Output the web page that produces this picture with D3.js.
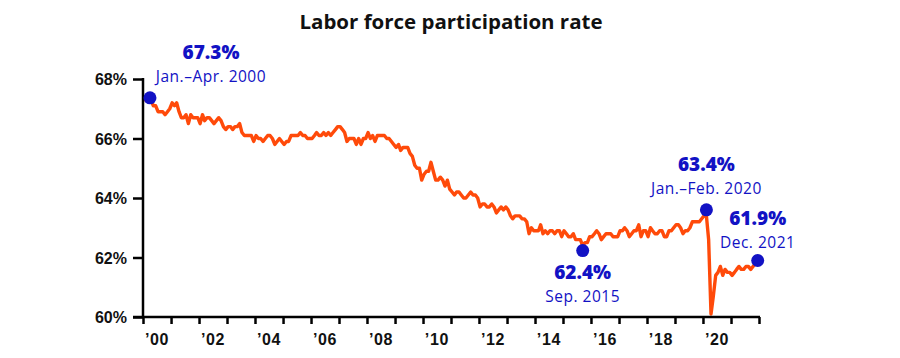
<!DOCTYPE html>
<html>
<head>
<meta charset="utf-8">
<script src="https://cdn.jsdelivr.net/npm/d3@7"></script>
<style>
  html, body { margin: 0; padding: 0; background: #fff; }
  svg { display: block; font-family: "Open Sans", Lato, sans-serif; }
</style>
</head>
<body>
<svg id="chart" width="900" height="358"></svg>
<script>
// ---- Data (monthly labor force participation rate, %) ----
const years = d3.range(2000, 2022);
const rate2000 = [67.3,67.3,67.3,67.3,67.1,67.1,66.9,66.9,66.9,66.8,66.9,67.0];
const rate2001 = [67.2,67.1,67.2,66.9,66.7,66.7,66.8,66.5,66.8,66.7,66.7,66.7];
const rate2002 = [66.5,66.8,66.6,66.7,66.7,66.6,66.5,66.6,66.7,66.6,66.4,66.3];
const rate2003 = [66.4,66.4,66.3,66.4,66.4,66.5,66.2,66.1,66.1,66.1,66.1,65.9];
const rate2004 = [66.1,66.0,66.0,65.9,66.0,66.1,66.1,66.0,65.8,65.9,66.0,65.9];
const rate2005 = [65.8,65.9,65.9,66.1,66.1,66.1,66.1,66.2,66.1,66.1,66.0,66.0];
const rate2006 = [66.0,66.1,66.2,66.1,66.1,66.2,66.1,66.2,66.1,66.2,66.3,66.4];
const rate2007 = [66.4,66.3,66.2,65.9,66.0,66.0,66.0,65.8,66.0,65.8,66.0,66.0];
const rate2008 = [66.2,66.0,66.1,65.9,66.1,66.1,66.1,66.1,66.0,66.0,65.9,65.8];
const rate2009 = [65.7,65.8,65.6,65.7,65.7,65.7,65.5,65.4,65.1,65.0,65.0,64.6];
const rate2010 = [64.8,64.9,64.9,65.2,64.9,64.6,64.6,64.7,64.6,64.4,64.6,64.3];
const rate2011 = [64.2,64.1,64.2,64.2,64.1,64.0,64.0,64.1,64.2,64.1,64.1,64.0];
const rate2012 = [63.7,63.8,63.8,63.7,63.7,63.8,63.7,63.5,63.6,63.7,63.6,63.7];
const rate2013 = [63.6,63.4,63.3,63.4,63.4,63.4,63.3,63.3,63.2,62.8,63.0,62.9];
const rate2014 = [62.9,62.9,63.1,62.8,62.9,62.8,62.9,62.9,62.8,62.9,62.9,62.7];
const rate2015 = [62.9,62.8,62.7,62.7,62.8,62.6,62.6,62.6,62.4,62.5,62.5,62.7];
const rate2016 = [62.7,62.8,62.9,62.8,62.6,62.7,62.8,62.8,62.8,62.7,62.7,62.7];
const rate2017 = [62.9,62.9,63.0,62.9,62.7,62.8,62.9,62.9,63.1,62.7,62.9,62.9];
const rate2018 = [62.7,63.0,62.9,62.8,62.8,62.9,62.9,62.7,62.7,62.9,62.9,63.0];
const rate2019 = [63.1,63.1,63.0,62.8,62.9,62.9,63.0,63.2,63.2,63.2,63.2,63.3];
const rate2020 = [63.4,63.4,62.6,60.1,60.7,61.4,61.5,61.7,61.4,61.6,61.5,61.5];
const rate2021 = [61.4,61.5,61.6,61.7,61.6,61.6,61.7,61.7,61.6,61.7,61.8,61.9];
const ratesByYear = [rate2000,rate2001,rate2002,rate2003,rate2004,rate2005,rate2006,
  rate2007,rate2008,rate2009,rate2010,rate2011,rate2012,rate2013,rate2014,rate2015,
  rate2016,rate2017,rate2018,rate2019,rate2020,rate2021];

const yTickValues = [60, 62, 64, 66, 68];
const xLabelYears = [2000, 2002, 2004, 2006, 2008, 2010, 2012, 2014, 2016, 2018, 2020];

// Highlighted points
const calloutDates  = ["2000-04-01", "2015-09-15", "2020-02-15", "2021-12-15"];
const calloutValues = [67.3, 62.4, 63.4, 61.9];
const calloutTitles = ["67.3%", "62.4%", "63.4%", "61.9%"];
const calloutSubs   = ["Jan.–Apr. 2000", "Sep. 2015", "Jan.–Feb. 2020", "Dec. 2021"];

// ---- Layout / style (not data) ----
const calloutLayout = [
  { dx: 61,  dyTitle: -41,   dySub: -18,   dotDy: -2 },
  { dx: 0,   dyTitle: 33,    dySub: 56,    dotDy: 5 },
  { dx: 0,   dyTitle: -44.4, dySub: -21.4, dotDy: -6 },
  { dx: 0,   dyTitle: -35,   dySub: -12,   dotDy: 0 }
];
const lineColor = "#FF4A0A";
const dotColor = "#1212C4";

const svg = d3.select("#chart");
const x = d3.scaleTime()
  .domain([new Date(2000, 0, 1), new Date(2022, 0, 1)])
  .range([143, 759]);
const y = d3.scaleLinear().domain([60, 68]).range([317, 79]);

const series = [];
years.forEach((yr, i) => {
  ratesByYear[i].forEach((v, m) => series.push({ date: new Date(yr, m, 15), value: v }));
});

// Title
svg.append("text")
  .attr("x", 451).attr("y", 29)
  .attr("text-anchor", "middle")
  .attr("font-size", 19.5).attr("font-weight", 700)
  .attr("fill", "#111")
  .attr("textLength", 303).attr("lengthAdjust", "spacingAndGlyphs")
  .text("Labor force participation rate");

// Line
svg.append("path")
  .datum(series)
  .attr("fill", "none")
  .attr("stroke", lineColor)
  .attr("stroke-width", 3.4)
  .attr("stroke-linejoin", "round")
  .attr("d", d3.line().x(d => x(d.date)).y(d => y(d.value)));

// Y axis
const yAxis = d3.axisLeft(y).tickValues(yTickValues).tickSize(10).tickPadding(6)
  .tickFormat(d => d + "%");
const gy = svg.append("g").attr("transform", "translate(143,0)").call(yAxis);
gy.select(".domain").remove();
gy.append("line").attr("x1", 0).attr("x2", 0).attr("y1", 78).attr("y2", 318)
  .attr("stroke", "#000").attr("stroke-width", 2.5);
gy.selectAll(".tick line").attr("stroke", "#000").attr("stroke-width", 2.5);
gy.selectAll(".tick text").attr("fill", "#111").attr("font-size", 16)
  .attr("font-weight", 700).attr("dy", "0.36em");

// X axis (year ticks)
const xTicks = d3.range(2000, 2023).map(yr => new Date(yr, 0, 1));
const xAxis = d3.axisBottom(x).tickValues(xTicks).tickSize(7).tickFormat("");
const gx = svg.append("g").attr("transform", "translate(0,317)").call(xAxis);
gx.select(".domain").remove();
gx.append("line").attr("x1", 133).attr("x2", 760).attr("y1", 0).attr("y2", 0)
  .attr("stroke", "#000").attr("stroke-width", 2.5);
gx.selectAll(".tick line").attr("stroke", "#000").attr("stroke-width", 2.5);
gx.selectAll(".xlab")
  .data(xLabelYears)
  .enter().append("text")
  .attr("class", "xlab")
  .attr("x", d => x(new Date(d, 6, 1)))
  .attr("y", 27.5)
  .attr("text-anchor", "middle")
  .attr("font-size", 16).attr("font-weight", 700).attr("fill", "#111")
  .attr("letter-spacing", 0.6)
  .text(d => "’" + String(d).slice(2));

// Callouts
calloutDates.forEach((ds, i) => {
  const dt = new Date(ds + "T00:00:00");
  const cx = x(dt), cy = y(calloutValues[i]);
  const L = calloutLayout[i];
  svg.append("circle")
    .attr("cx", cx).attr("cy", cy + L.dotDy).attr("r", 6.5)
    .attr("fill", dotColor);
  svg.append("text")
    .attr("x", cx + L.dx).attr("y", cy + L.dyTitle)
    .attr("text-anchor", "middle")
    .attr("font-size", 19).attr("font-weight", 800).attr("fill", dotColor)
    .text(calloutTitles[i]);
  svg.append("text")
    .attr("x", cx + L.dx).attr("y", cy + L.dySub)
    .attr("text-anchor", "middle")
    .attr("font-size", 15.5).attr("font-weight", 400).attr("fill", dotColor)
    .attr("letter-spacing", 0.5)
    .text(calloutSubs[i]);
});
</script>
</body>
</html>
